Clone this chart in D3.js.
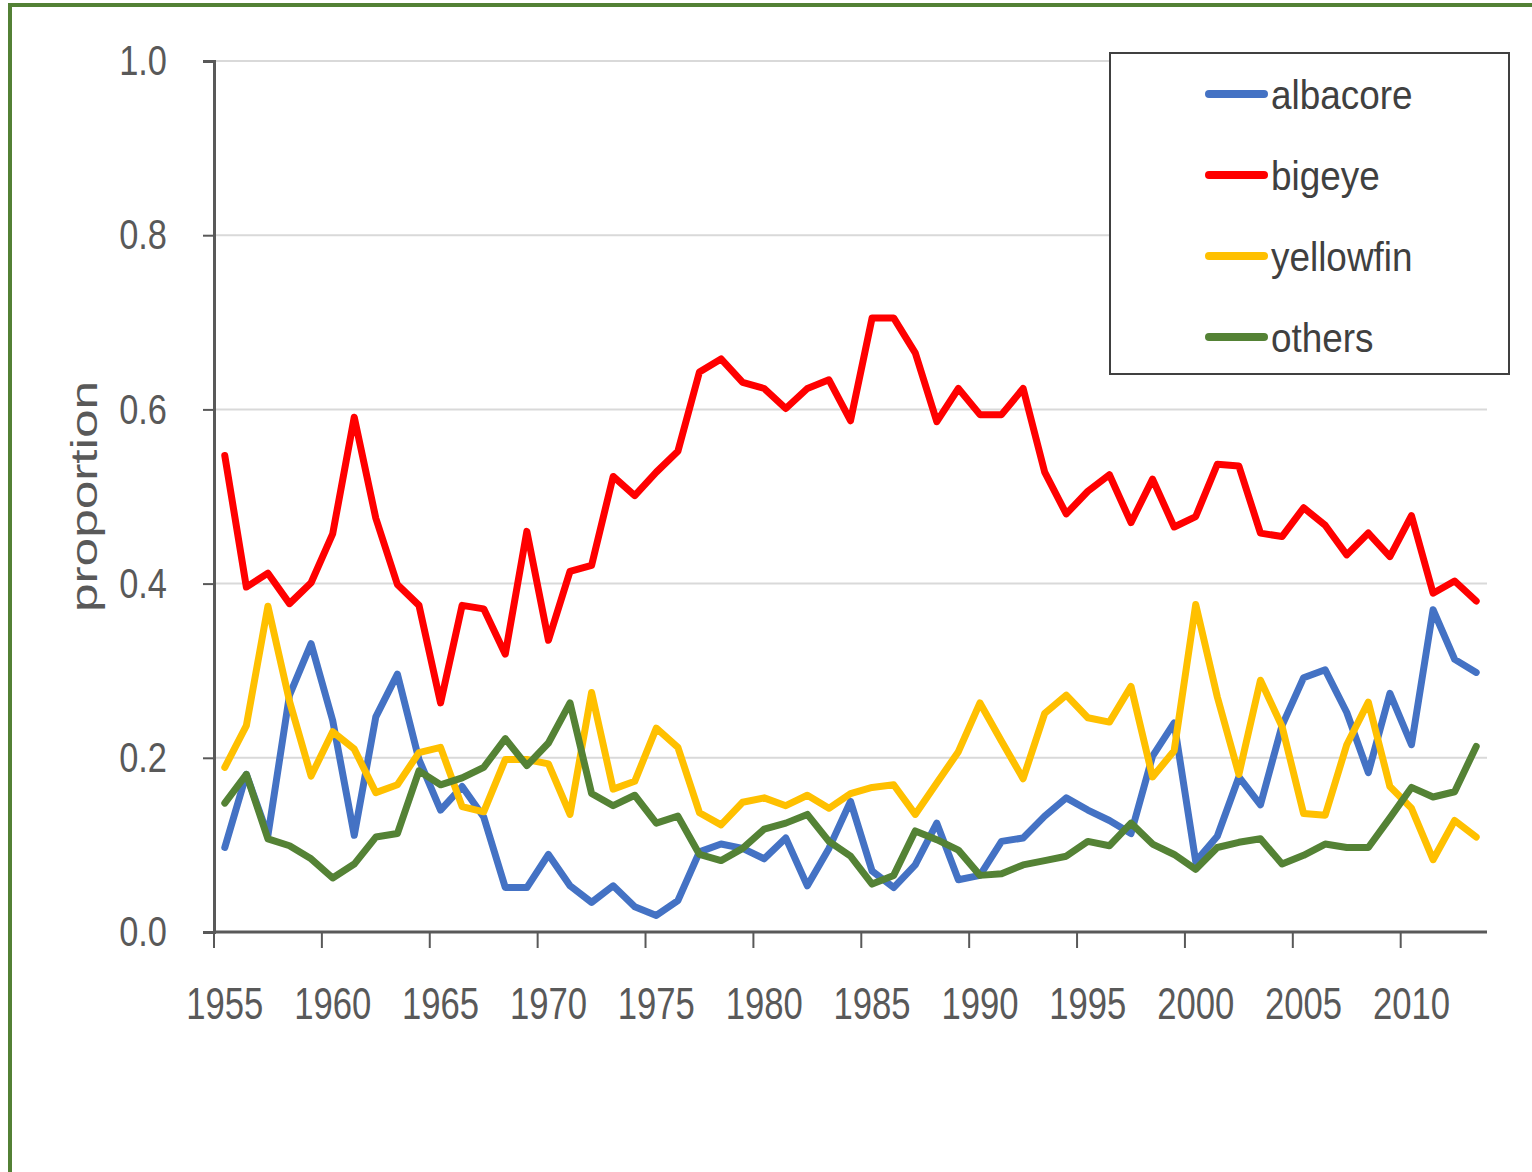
<!DOCTYPE html>
<html>
<head>
<meta charset="utf-8">
<script src="https://cdn.jsdelivr.net/npm/d3@7"></script>
<style>
  body { margin: 0; background: #fff; }
  svg text { font-family: "Liberation Sans", Arial, sans-serif; }
</style>
</head>
<body>
<svg width="1532" height="1172"></svg>
<script>
'use strict';

const years = d3.range(1955, 2014);

const albacore = [
  0.097, 0.181, 0.111, 0.272, 0.331, 0.243, 0.111, 0.247, 0.296, 0.198,
  0.140, 0.167, 0.132, 0.051, 0.051, 0.089, 0.053, 0.034, 0.053, 0.029,
  0.019, 0.036, 0.092, 0.101, 0.096, 0.084, 0.108, 0.053, 0.096, 0.150,
  0.070, 0.051, 0.077, 0.125, 0.060, 0.065, 0.104, 0.108, 0.133, 0.154,
  0.140, 0.128, 0.113, 0.202, 0.240, 0.081, 0.110, 0.178, 0.146, 0.237,
  0.292, 0.301, 0.252, 0.183, 0.274, 0.215, 0.370, 0.313, 0.298
];

const bigeye = [
  0.547, 0.396, 0.412, 0.377, 0.401, 0.457, 0.591, 0.475, 0.399, 0.375,
  0.263, 0.375, 0.371, 0.319, 0.460, 0.335, 0.414, 0.421, 0.523, 0.501,
  0.528, 0.552, 0.643, 0.658, 0.631, 0.624, 0.601, 0.624, 0.634, 0.587,
  0.705, 0.705, 0.665, 0.586, 0.624, 0.594, 0.594, 0.624, 0.528, 0.480,
  0.506, 0.525, 0.470, 0.520, 0.465, 0.477, 0.537, 0.535, 0.458, 0.454,
  0.487, 0.467, 0.433, 0.458, 0.431, 0.478, 0.389, 0.403, 0.380
];

const yellowfin = [
  0.189, 0.237, 0.374, 0.265, 0.179, 0.230, 0.210, 0.160, 0.169, 0.206,
  0.212, 0.144, 0.138, 0.198, 0.198, 0.193, 0.135, 0.275, 0.164, 0.173,
  0.234, 0.212, 0.137, 0.123, 0.149, 0.154, 0.145, 0.157, 0.142, 0.159,
  0.166, 0.169, 0.135, 0.171, 0.207, 0.263, 0.219, 0.176, 0.251, 0.272,
  0.246, 0.241, 0.282, 0.178, 0.208, 0.376, 0.270, 0.181, 0.289, 0.236,
  0.136, 0.134, 0.215, 0.264, 0.167, 0.142, 0.083, 0.128, 0.109
];

const others = [
  0.148, 0.181, 0.107, 0.099, 0.084, 0.062, 0.078, 0.109, 0.113, 0.185,
  0.169, 0.177, 0.189, 0.222, 0.191, 0.217, 0.263, 0.159, 0.145, 0.157,
  0.125, 0.133, 0.089, 0.082, 0.096, 0.118, 0.125, 0.135, 0.104, 0.087,
  0.055, 0.065, 0.116, 0.106, 0.094, 0.065, 0.067, 0.077, 0.082, 0.087,
  0.104, 0.099, 0.125, 0.101, 0.089, 0.072, 0.097, 0.103, 0.107, 0.078,
  0.088, 0.101, 0.097, 0.097, 0.131, 0.166, 0.155, 0.161, 0.213
];

const seriesNames = ["albacore", "bigeye", "yellowfin", "others"];
const seriesColours = ["#4472c4", "#ff0000", "#ffc000", "#548235"];
const yTicks = [0, 0.2, 0.4, 0.6, 0.8, 1.0];

const series = [albacore, bigeye, yellowfin, others].map((values, i) => ({
  name: seriesNames[i],
  colour: seriesColours[i],
  values: values
}));

const svg = d3.select("svg");
const textColour = "#595959";

// outer green frame (only top and left edges show in the picture)
svg.append("rect")
  .attr("x", 10).attr("y", 5)
  .attr("width", 1600).attr("height", 1300)
  .attr("fill", "none")
  .attr("stroke", "#538135")
  .attr("stroke-width", 4);

const plotLeft = 214, plotRight = 1487, plotTop = 61, plotBottom = 932;

const x = d3.scaleBand()
  .domain(years)
  .range([plotLeft, plotRight]);

const y = d3.scaleLinear()
  .domain([0, 1])
  .range([plotBottom, plotTop]);

const cx = d => x(d) + x.bandwidth() / 2;

// gridlines
svg.append("g")
  .selectAll("line")
  .data(yTicks.filter(d => d > 0))
  .join("line")
  .attr("x1", plotLeft).attr("x2", plotRight)
  .attr("y1", d => y(d)).attr("y2", d => y(d))
  .attr("stroke", "#d9d9d9")
  .attr("stroke-width", 2);

// y axis (labels squeezed sideways like the narrow font of the original)
const yAxis = svg.append("g")
  .attr("transform", `translate(${plotLeft},0)`)
  .call(d3.axisLeft(y).tickValues(yTicks).tickFormat(d3.format(".1f")).tickSize(11));
yAxis.select(".domain").attr("stroke", textColour).attr("stroke-width", 3);
yAxis.selectAll(".tick line").attr("stroke", textColour).attr("stroke-width", 2);
yAxis.selectAll(".tick text")
  .attr("x", 0)
  .attr("transform", "translate(-47,0) scale(0.8,1)")
  .attr("font-size", 43)
  .attr("font-family", null)
  .attr("fill", textColour);

// x axis: tick marks on category boundaries every 5 years, labels at centres
const labelYears = years.filter(d => d % 5 === 0);
const xAxis = svg.append("g").attr("transform", `translate(0,${plotBottom})`);
xAxis.append("line")
  .attr("x1", plotLeft).attr("x2", plotRight)
  .attr("stroke", textColour).attr("stroke-width", 3);
xAxis.selectAll(".xtick")
  .data(labelYears)
  .join("line")
  .attr("class", "xtick")
  .attr("x1", d => x(d)).attr("x2", d => x(d))
  .attr("y1", 0).attr("y2", 16)
  .attr("stroke", textColour).attr("stroke-width", 2);
xAxis.selectAll(".xlabel")
  .data(labelYears)
  .join("text")
  .attr("class", "xlabel")
  .attr("transform", d => `translate(${cx(d)},87) scale(0.77,1)`)
  .attr("text-anchor", "middle")
  .attr("font-size", 45)
  .attr("fill", textColour)
  .text(d => d);

// y axis title
svg.append("text")
  .attr("transform", `translate(97,${(plotTop + plotBottom) / 2}) rotate(-90)`)
  .attr("text-anchor", "middle")
  .attr("font-size", 36)
  .attr("textLength", 231)
  .attr("lengthAdjust", "spacingAndGlyphs")
  .attr("fill", textColour)
  .text("proportion");

// series lines
const line = d3.line()
  .x((d, i) => cx(years[i]))
  .y(d => y(d));

svg.append("g")
  .selectAll("path")
  .data(series)
  .join("path")
  .attr("d", d => line(d.values))
  .attr("fill", "none")
  .attr("stroke", d => d.colour)
  .attr("stroke-width", 7)
  .attr("stroke-linejoin", "round")
  .attr("stroke-linecap", "round");

// legend
const legend = svg.append("g");
legend.append("rect")
  .attr("x", 1110).attr("y", 53)
  .attr("width", 399).attr("height", 321)
  .attr("fill", "#fff")
  .attr("stroke", "#404040")
  .attr("stroke-width", 2);

const item = legend.selectAll(".item")
  .data(series)
  .join("g")
  .attr("class", "item")
  .attr("transform", (d, i) => `translate(0,${94 + i * 81})`);
item.append("line")
  .attr("x1", 1209).attr("x2", 1264)
  .attr("stroke", d => d.colour)
  .attr("stroke-width", 8)
  .attr("stroke-linecap", "round");
item.append("text")
  .attr("transform", "translate(1271,15) scale(0.9,1)")
  .attr("font-size", 41)
  .attr("fill", "#404040")
  .text(d => d.name);
</script>
</body>
</html>
